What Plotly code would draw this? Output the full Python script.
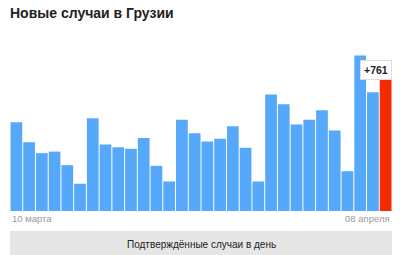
import plotly.graph_objects as go

days = list(range(1, 31))
cases = [511, 396, 333, 342, 264, 157, 534, 383, 367, 358,
         421, 260, 170, 525, 448, 400, 416, 488, 364, 170,
         671, 615, 498, 525, 580, 463, 229, 895, 684, 761]
tick_labels = ["10 марта", "08 апреля"]
title = "Новые случаи в Грузии"
button_text = "Подтверждённые случаи в день"

blue = "#55a8fa"
red = "#f22b00"
colors = [blue] * (len(cases) - 1) + [red]

fig = go.Figure(go.Bar(x=days, y=cases, marker=dict(color=colors, line=dict(width=0)),
                       hoverinfo="skip"))

FONT = "Liberation Sans, Arial, sans-serif"

fig.update_layout(
    width=400, height=255,
    margin=dict(l=10, r=8, t=50, b=44),
    paper_bgcolor="white", plot_bgcolor="white",
    bargap=0.08,
    showlegend=False,
    xaxis=dict(range=[0.5, 30.5], visible=False, fixedrange=True),
    yaxis=dict(range=[0, 927], visible=False, fixedrange=True),
)

# grey button rect in pixel coordinates below the plot area
fig.add_shape(type="rect", xref="paper", yref="paper",
              x0=0, x1=1, y0=-20, y1=-48, ysizemode="pixel", yanchor=0,
              fillcolor="#e6e6e6", line=dict(width=0), layer="below")

annotations = [
    dict(text="<b>" + title + "</b>", xref="paper", yref="paper", x=-0.005, y=1, yshift=37,
         xanchor="left", yanchor="middle", showarrow=False,
         font=dict(family=FONT, size=14, color="#222222")),
    dict(text=tick_labels[0], xref="paper", yref="paper", x=0, y=0, yshift=-7,
         xanchor="left", yanchor="middle", showarrow=False,
         font=dict(family=FONT, size=9.5, color="#9a9a9a")),
    dict(text=tick_labels[1], xref="paper", yref="paper", x=1, y=0, yshift=-7,
         xanchor="right", yanchor="middle", showarrow=False,
         font=dict(family=FONT, size=9.5, color="#9a9a9a")),
    dict(text=button_text, xref="paper", yref="paper", x=0.5, y=0, yshift=-33,
         xanchor="center", yanchor="middle", showarrow=False,
         font=dict(family=FONT, size=10, color="#222222")),
    dict(text="<b>+" + str(cases[-1]) + "</b>", x=days[-1], y=cases[-1], xshift=-10, yshift=9,
         xref="x", yref="y", xanchor="center", yanchor="middle", showarrow=False,
         bgcolor="white", bordercolor="#dddddd", borderwidth=1, borderpad=3,
         font=dict(family=FONT, size=10.5, color="#222222")),
]
fig.update_layout(annotations=annotations)

fig.write_html("out.html", config={"displayModeBar": False})
